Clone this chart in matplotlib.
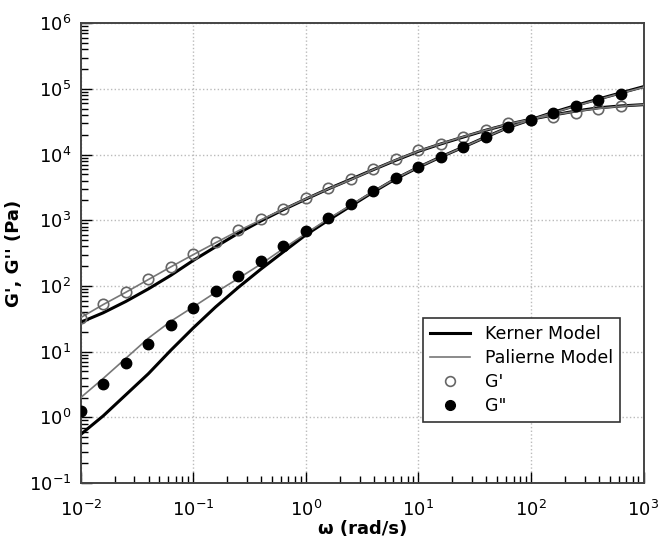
import numpy as np
import matplotlib.pyplot as plt
from matplotlib.lines import Line2D

# Frequenze (rad/s) - 5 punti per decade
omega = [0.01, 0.0158, 0.0251, 0.0398, 0.0631, 0.1, 0.158, 0.251, 0.398, 0.631,
         1.0, 1.58, 2.51, 3.98, 6.31, 10, 15.8, 25.1, 39.8, 63.1,
         100, 158, 251, 398, 631, 1000]

# Dati sperimentali (fino a 631 rad/s)
g1_data = [33, 53, 82, 129, 197, 307, 465, 711, 1035, 1500,
           2160, 3070, 4210, 6040, 8600, 11750, 14500, 18300, 23700, 29900,
           33600, 37800, 43500, 49000, 55000]
g2_data = [1.25, 3.19, 6.65, 13.2, 25.5, 46, 83, 144, 240, 406,
           687, 1084, 1750, 2820, 4450, 6550, 9290, 13200, 18700, 26600,
           33600, 43400, 55000, 67900, 82700]

# Modello di Kerner
kerner_g1 = [28, 39, 58, 90, 145, 245, 395, 635, 975, 1450,
             2100, 3000, 4200, 5900, 8200, 11200, 14500, 18500, 23500, 29000,
             34500, 40000, 46000, 51500, 55000, 57500]
kerner_g2 = [0.55, 1.05, 2.2, 4.6, 10.5, 23, 48, 95, 180, 330,
             600, 1000, 1650, 2700, 4300, 6400, 9200, 13000, 18500, 26000,
             34000, 44000, 56000, 70000, 87000, 108000]

# Modello di Palierne
palierne_g1 = [33, 52, 80, 125, 195, 300, 455, 690, 1010, 1470,
               2120, 3000, 4150, 5900, 8300, 11300, 14600, 18700, 23600, 29200,
               34500, 40000, 45500, 50500, 54500, 57500]
palierne_g2 = [2.0, 3.9, 7.9, 16, 29, 48, 80, 130, 215, 370,
               630, 1050, 1700, 2750, 4350, 6450, 9200, 13000, 18500, 26000,
               34000, 43500, 55000, 69000, 86000, 106000]

plt.rcParams['font.family'] = 'DejaVu Sans'

fig = plt.figure(figsize=(6.59, 5.44), dpi=100)
ax = fig.add_axes([0.1226, 0.1121, 0.8539, 0.8453])

# Curve dei modelli
ax.plot(omega, kerner_g1, color='black', linewidth=2.2, zorder=2)
ax.plot(omega, kerner_g2, color='black', linewidth=2.2, zorder=2)
ax.plot(omega, palierne_g1, color='#777777', linewidth=1.2, zorder=3)
ax.plot(omega, palierne_g2, color='#777777', linewidth=1.2, zorder=3)

# Punti sperimentali
n = len(g1_data)
ax.plot(omega[:n], g1_data, linestyle='none', marker='o', markersize=7.5,
        markerfacecolor='none', markeredgecolor='#666666', markeredgewidth=1.2, zorder=4)
ax.plot(omega[:n], g2_data, linestyle='none', marker='o', markersize=7.5,
        markerfacecolor='black', markeredgecolor='black', zorder=4)

ax.set_xscale('log')
ax.set_yscale('log')
ax.set_xlim(1e-2, 1e3)
ax.set_ylim(1e-1, 1e6)

# Griglia e assi
ax.grid(True, which='major', linestyle=':', color='#bbbbbb', linewidth=1)
ax.tick_params(which='both', direction='in', top=False, right=False, labelsize=13)
ax.tick_params(which='major', length=8, width=1)
ax.tick_params(which='minor', length=5, width=1)
ax.tick_params(axis='x', which='both', pad=12)
ax.tick_params(axis='y', which='both', pad=7)
for s in ax.spines.values():
    s.set_color('#444444')
    s.set_linewidth(1.4)

ax.set_xlabel('ω (rad/s)', fontsize=13, fontweight='bold', labelpad=0)
ax.set_ylabel("G', G'' (Pa)", fontsize=13, fontweight='bold', labelpad=4)

# Legenda
handles = [
    Line2D([], [], color='black', linewidth=2.2),
    Line2D([], [], color='#777777', linewidth=1.2),
    Line2D([], [], linestyle='none', marker='o', markersize=7,
           markerfacecolor='none', markeredgecolor='#666666', markeredgewidth=1.2),
    Line2D([], [], linestyle='none', marker='o', markersize=7,
           markerfacecolor='black', markeredgecolor='black'),
]
labels = ['Kerner Model', 'Palierne Model', "G'", 'G"']
leg = ax.legend(handles, labels, loc='lower right', bbox_to_anchor=(0.974, 0.114),
                fontsize=12.5, frameon=True, fancybox=False, framealpha=1,
                edgecolor='#333333', handlelength=2.3, handletextpad=0.9,
                labelspacing=0.35, borderpad=0.4)
leg.get_frame().set_linewidth(1.2)

fig.savefig('out.png', dpi=100)
